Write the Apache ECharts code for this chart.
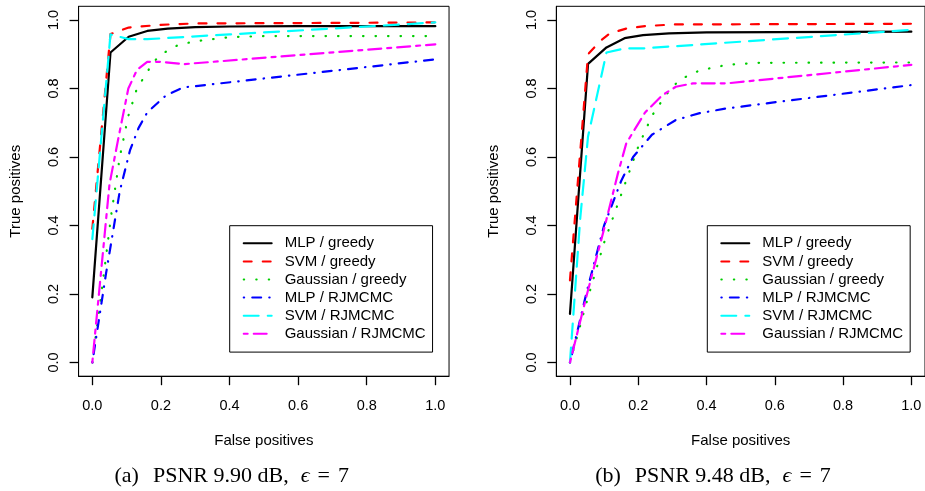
<!DOCTYPE html>
<html>
<head>
<meta charset="utf-8">
<script src="https://cdn.jsdelivr.net/npm/echarts@6/dist/echarts.min.js"></script>
<style>
html,body{margin:0;padding:0;background:#fff;}
#chart{width:925px;height:491px;}
</style>
</head>
<body>
<div id="chart"></div>
<script>
// ---- data ----
const fpTicks = [0, 0.2, 0.4, 0.6, 0.8, 1.0];
const tpTicks = [0, 0.2, 0.4, 0.6, 0.8, 1.0];
const seriesNames = ['MLP / greedy', 'SVM / greedy', 'Gaussian / greedy', 'MLP / RJMCMC', 'SVM / RJMCMC', 'Gaussian / RJMCMC'];
const captionTags = ['(a)', '(b)'];
const captionTexts = ['PSNR 9.90 dB,', 'PSNR 9.48 dB,'];
const captionEps = '7';
const xTitle = 'False positives';
const yTitle = 'True positives';

// panel (a)
const leftMlpGreedy = [[0,0.19],[0.053,0.905],[0.106,0.951],[0.16,0.968],[0.22,0.975],[0.3,0.979],[0.4,0.981],[0.6,0.982],[1,0.982]];
const leftSvmGreedy = [[0,0.39],[0.053,0.959],[0.106,0.978],[0.2,0.986],[0.3,0.99],[0.6,0.991],[1,0.993]];
const leftGaussGreedy = [[0,0],[0.03,0.23],[0.055,0.43],[0.08,0.6],[0.105,0.72],[0.13,0.8],[0.155,0.84],[0.18,0.88],[0.21,0.905],[0.25,0.927],[0.3,0.938],[0.4,0.95],[0.5,0.953],[1,0.953]];
const leftMlpRjmcmc = [[0,0],[0.04,0.26],[0.08,0.5],[0.11,0.62],[0.135,0.685],[0.16,0.73],[0.215,0.78],[0.265,0.803],[1,0.885]];
const leftSvmRjmcmc = [[0,0.36],[0.053,0.958],[0.106,0.944],[0.16,0.944],[0.4,0.958],[0.7,0.975],[1,0.993]];
const leftGaussRjmcmc = [[0,0],[0.05,0.52],[0.075,0.65],[0.105,0.8],[0.13,0.854],[0.16,0.878],[0.2,0.878],[0.265,0.871],[1,0.929]];

// panel (b)
const rightMlpGreedy = [[0,0.142],[0.053,0.872],[0.107,0.92],[0.16,0.947],[0.214,0.956],[0.29,0.961],[0.4,0.964],[1,0.966]];
const rightSvmGreedy = [[0,0.24],[0.053,0.9],[0.09,0.94],[0.117,0.961],[0.165,0.975],[0.22,0.982],[0.3,0.987],[1,0.989]];
const rightGaussGreedy = [[0,0],[0.05,0.18],[0.1,0.35],[0.15,0.49],[0.2,0.63],[0.24,0.72],[0.28,0.78],[0.32,0.825],[0.38,0.853],[0.46,0.869],[0.55,0.875],[1,0.876]];
const rightMlpRjmcmc = [[0,0],[0.05,0.21],[0.1,0.4],[0.15,0.53],[0.185,0.6],[0.24,0.665],[0.31,0.708],[0.38,0.728],[0.46,0.742],[0.65,0.766],[1,0.81]];
const rightSvmRjmcmc = [[0,0],[0.03,0.42],[0.053,0.66],[0.107,0.905],[0.16,0.917],[0.214,0.917],[1,0.971]];
const rightGaussRjmcmc = [[0,0],[0.05,0.2],[0.1,0.39],[0.12,0.47],[0.14,0.55],[0.165,0.64],[0.22,0.73],[0.27,0.78],[0.31,0.805],[0.36,0.815],[0.46,0.815],[1,0.869]];

// ---- styles ----
const FONT = 'Liberation Sans, Arial, Helvetica, sans-serif';
const LW = 2.2;
const styles = [
  { color: '#000000', type: 'solid' },
  { color: '#FF0000', type: [8, 11] },
  { color: '#00CD00', type: [0.5, 12] },
  { color: '#0000FF', type: [0.5, 8, 9, 8] },
  { color: '#00FFFF', type: [15, 9] },
  { color: '#FF00FF', type: [4, 6, 13, 6] }
];
const leftData = [leftMlpGreedy, leftSvmGreedy, leftGaussGreedy, leftMlpRjmcmc, leftSvmRjmcmc, leftGaussRjmcmc];
const rightData = [rightMlpGreedy, rightSvmGreedy, rightGaussGreedy, rightMlpRjmcmc, rightSvmRjmcmc, rightGaussRjmcmc];

const PX = 343;
const gridW = 1.08 * PX;
const gridH = 1.08 * 342.5;
const grids = [
  { left: 78.6, top: 6.3, width: gridW, height: gridH, show: true, borderColor: '#000', borderWidth: 1, backgroundColor: 'transparent' },
  { left: 556.3, top: 6.3, width: gridW, height: gridH, show: true, borderColor: '#000', borderWidth: 1, backgroundColor: 'transparent' }
];

function xAxis(i) {
  return {
    gridIndex: i, type: 'value', min: -0.04, max: 1.04,
    axisLine: { show: true, onZero: false, lineStyle: { color: '#000', width: 1 } },
    splitLine: { show: false },
    axisTick: { show: true, length: 9, customValues: fpTicks, lineStyle: { color: '#000', width: 1.3 } },
    axisLabel: { customValues: fpTicks, margin: 22, color: '#000', fontFamily: FONT, fontSize: 14.5,
      formatter: v => v.toFixed(1) },
    name: xTitle, nameLocation: 'middle', nameGap: 57,
    nameTextStyle: { color: '#000', fontFamily: FONT, fontSize: 15 }
  };
}
function yAxis(i) {
  return {
    gridIndex: i, type: 'value', min: -0.04, max: 1.04,
    axisLine: { show: true, onZero: false, lineStyle: { color: '#000', width: 1 } },
    splitLine: { show: false },
    axisTick: { show: true, length: 9, customValues: tpTicks, lineStyle: { color: '#000', width: 1.3 } },
    axisLabel: { customValues: tpTicks, margin: 17, rotate: 90, color: '#000', fontFamily: FONT, fontSize: 14.5,
      formatter: v => v.toFixed(1) },
    name: yTitle, nameLocation: 'middle', nameGap: 55, nameRotate: 90,
    nameTextStyle: { color: '#000', fontFamily: FONT, fontSize: 15 }
  };
}

const series = [];
[leftData, rightData].forEach((set, gi) => {
  set.forEach((d, k) => {
    series.push({
      type: 'line', name: seriesNames[k], data: d,
      xAxisIndex: gi, yAxisIndex: gi,
      symbol: 'none', showSymbol: false, smooth: false,
      lineStyle: { color: styles[k].color, width: LW, type: styles[k].type, cap: 'round', join: 'round' },
      itemStyle: { color: styles[k].color },
      emphasis: { disabled: true },
      silent: true, z: 2 + k
    });
  });
});

function legend(left) {
  return {
    left: left, top: 225.7, orient: 'vertical',
    data: seriesNames, selectedMode: false,
    backgroundColor: '#fff', borderColor: '#000', borderWidth: 1, borderRadius: 0,
    padding: [8.6, 7, 9.3, 13],
    itemWidth: 28, itemHeight: 18, itemGap: 0.1,
    itemStyle: { opacity: 0, borderWidth: 0 },
    textStyle: { color: '#000', fontFamily: FONT, fontSize: 15, lineHeight: 18, padding: [0, 0, 0, 8] }
  };
}

const capFont = 'Liberation Serif, Times New Roman, serif';
function caption(cx, idx) {
  return {
    type: 'text', x: cx, y: 476,
    style: {
      text: '{t|' + captionTags[idx] + '}{p|' + captionTexts[idx] + '}{e|ϵ}{q|=}{q|' + captionEps + '}',
      align: 'center', verticalAlign: 'middle',
      rich: {
        t: { fontFamily: capFont, fontSize: 22, fill: '#000' },
        p: { fontFamily: capFont, fontSize: 22, fill: '#000', padding: [0, 0, 0, 14] },
        e: { fontFamily: capFont, fontSize: 22, fontStyle: 'italic', fill: '#000', padding: [0, 0, 0, 12] },
        q: { fontFamily: capFont, fontSize: 22, fill: '#000', padding: [0, 0, 0, 8] }
      }
    }
  };
}

const chart = echarts.init(document.getElementById('chart'), null, { renderer: 'canvas' });
chart.setOption({
  animation: false,
  backgroundColor: '#fff',
  grid: grids,
  xAxis: [xAxis(0), xAxis(1)],
  yAxis: [yAxis(0), yAxis(1)],
  legend: [legend(229.7), legend(707.3)],
  series: series,
  graphic: [caption(231.7, 0), caption(713, 1)]
});
</script>
</body>
</html>
